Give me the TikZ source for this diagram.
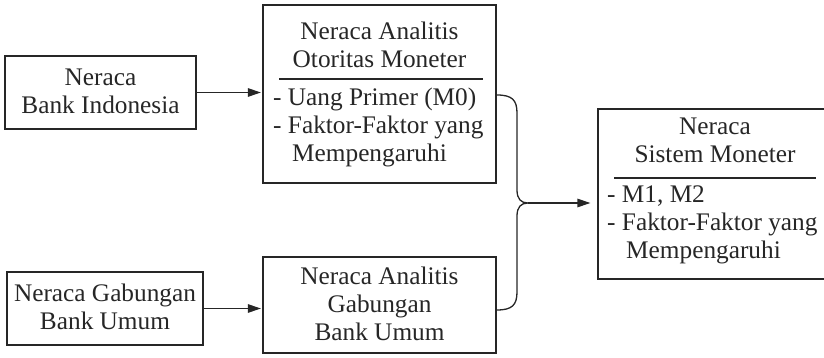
\documentclass[tikz,border=0pt]{standalone}
\usepackage{fontspec}
\setmainfont{Liberation Serif}
\usetikzlibrary{arrows.meta}
\definecolor{ink}{HTML}{262626}
\begin{document}
\begin{tikzpicture}[x=1pt,y=1pt,
  box/.style={draw=ink, line width=1.3pt, minimum width=#1, inner sep=0pt},
  txt/.style={inner sep=0pt, text=ink, font=\fontsize{25.3}{28}\selectfont},
  arr/.style={draw=ink, line width=1.3pt, -{Triangle[length=13pt,width=8.5pt]}},
  lin/.style={draw=ink, line width=1.3pt}]
\clip (0,0) rectangle (824,358);
% boxes
\node[box=191pt, minimum height=73pt] (A) at (100.5,265.5) {};
\node[box=196pt, minimum height=73pt] (C) at (105,49.5) {};
\node[box=233pt, minimum height=178pt] (B) at (379.5,264) {};
\node[box=233pt, minimum height=96pt] (D) at (379.5,53) {};
\node[box=234pt, minimum height=170pt] (E) at (715,164) {};
% box A
\node[txt, anchor=base] (a1) at (100.5,272) {Neraca};
\node[txt, anchor=base] (a2) at (100.5,244) {Bank Indonesia};
% box C
\node[txt, anchor=base] (c1) at (105,56) {Neraca Gabungan};
\node[txt, anchor=base] (c2) at (105,28) {Bank Umum};
% box B
\node[txt, anchor=base] (b1) at (379.5,318) {Neraca Analitis};
\node[txt, anchor=base] (b2) at (379.5,290) {Otoritas Moneter};
\draw[lin] (279,279) -- (483,279);
\node[txt, anchor=base west] (b3) at (273,252) {- Uang Primer (M0)};
\node[txt, anchor=base west] (b4) at (273,224) {- Faktor-Faktor yang};
\node[txt, anchor=base west] (b5) at (292,196) {Mempengaruhi};
% box D
\node[txt, anchor=base] (d1) at (379.5,73) {Neraca Analitis};
\node[txt, anchor=base] (d2) at (379.5,45) {Gabungan};
\node[txt, anchor=base] (d3) at (379.5,17) {Bank Umum};
% box E
\node[txt, anchor=base] (e1) at (715,223) {Neraca};
\node[txt, anchor=base] (e2) at (715,195) {Sistem Moneter};
\draw[lin] (614,180) -- (816,180);
\node[txt, anchor=base west] (e3) at (607,155) {- M1, M2};
\node[txt, anchor=base west] (e4) at (607,127) {- Faktor-Faktor yang};
\node[txt, anchor=base west] (e5) at (626,99) {Mempengaruhi};
% arrows
\draw[arr, shorten >=1.5pt] (A.east) -- (B.west |- A.east);
\draw[arr, shorten >=1.5pt] (C.east) -- (D.west |- C.east);
% brace
\coordinate (bt) at (497,263);
\coordinate (bb) at (497,48);
\coordinate (tip) at (528,155);
\draw[lin] (bt) .. controls (512,263) and (517,258) .. (517,245)
  -- (517,168) .. controls (517,159) and (521,155) .. (tip)
  .. controls (521,155) and (517,151) .. (517,142)
  -- (517,66) .. controls (517,53) and (512,48) .. (bb);
\draw[arr, shorten >=7pt] (tip) -- (E.west |- tip);
\end{tikzpicture}
\end{document}
